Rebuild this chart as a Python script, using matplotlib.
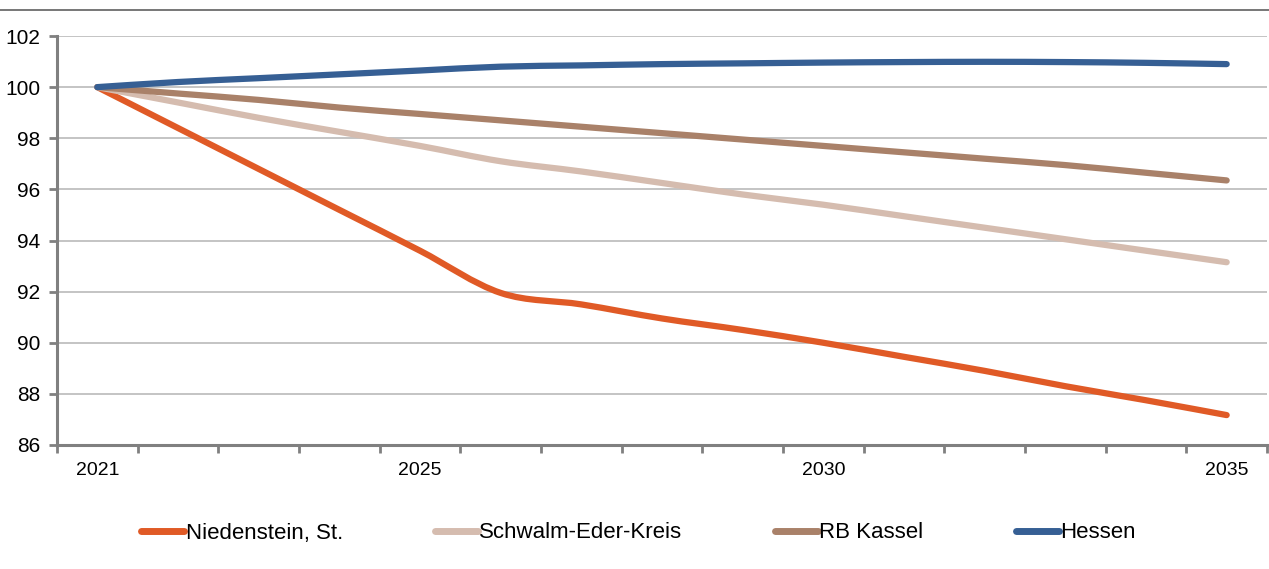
import numpy as np
import matplotlib.pyplot as plt
from matplotlib.path import Path
from matplotlib.patches import PathPatch
from matplotlib.lines import Line2D
from matplotlib.ticker import MultipleLocator, FixedLocator

plt.rcParams['font.family'] = ['Liberation Sans', 'DejaVu Sans']

# index values (2021 = 100)
years = list(range(2021, 2036))
niedenstein = [100, 98.4, 96.8, 95.2, 93.6, 91.95, 91.5, 90.95, 90.5, 90.0,
               89.45, 88.9, 88.3, 87.75, 87.17]
schwalm_eder = [100, 99.4, 98.8, 98.25, 97.7, 97.1, 96.7, 96.25, 95.8, 95.4,
                94.95, 94.5, 94.05, 93.6, 93.15]
rb_kassel = [100, 99.75, 99.5, 99.2, 98.95, 98.7, 98.45, 98.2, 97.95, 97.7,
             97.45, 97.2, 96.95, 96.65, 96.35]
hessen = [100, 100.2, 100.35, 100.5, 100.65, 100.8, 100.85, 100.9, 100.93, 100.96,
          100.98, 100.99, 100.98, 100.95, 100.9]

names = ["Niedenstein, St.", "Schwalm-Eder-Kreis", "RB Kassel", "Hessen"]
series = [niedenstein, schwalm_eder, rb_kassel, hessen]
colors = ["#E05A26", "#D5BCAF", "#A98169", "#365F94"]
xlabels = {2021: "2021", 2025: "2025", 2030: "2030", 2035: "2035"}


def smooth_path(x, y):
    # cubic bezier segments through the points (catmull-rom style smoothing)
    x = np.asarray(x, float)
    y = np.asarray(y, float)
    pts = np.column_stack([x, y])
    n = len(pts)
    verts = [pts[0]]
    codes = [Path.MOVETO]
    for i in range(n - 1):
        p0 = pts[i - 1] if i > 0 else pts[i]
        p1 = pts[i]
        p2 = pts[i + 1]
        p3 = pts[i + 2] if i + 2 < n else pts[i + 1]
        c1 = p1 + (p2 - p0) / 6.0
        c2 = p2 - (p3 - p1) / 6.0
        verts += [c1, c2, p2]
        codes += [Path.CURVE4] * 3
    return Path(verts, codes)


fig = plt.figure(figsize=(12.69, 5.69), dpi=100)
ax = fig.add_axes([57 / 1269, 1 - 445 / 569, 1210 / 1269, 409 / 569])

for vals, c in zip(series, colors):
    patch = PathPatch(smooth_path(years, vals), facecolor='none', edgecolor=c,
                      lw=4.5, capstyle='round', joinstyle='round', zorder=3)
    ax.add_patch(patch)

ax.set_xlim(2020.5, 2035.5)
ax.set_ylim(86, 102)

ax.yaxis.set_major_locator(MultipleLocator(2))
ax.grid(axis='y', color='#BFBFBF', lw=1.3, zorder=0)
ax.set_axisbelow(True)

ax.xaxis.set_major_locator(FixedLocator(list(xlabels.keys())))
ax.set_xticklabels(list(xlabels.values()))
ax.xaxis.set_minor_locator(FixedLocator(np.arange(2020.5, 2036, 1)))
ax.tick_params(axis='x', which='major', length=0, pad=12, labelsize=14)
ax.tick_params(axis='x', which='minor', length=6, width=2, color='#808080')
ax.tick_params(axis='y', length=6, width=2, color='#808080', pad=6, labelsize=15)

for s in ['top', 'right']:
    ax.spines[s].set_visible(False)
for s in ['left', 'bottom']:
    ax.spines[s].set_color('#808080')
    ax.spines[s].set_linewidth(2.2)

# thin rule across the top of the figure
fig.add_artist(Line2D([0, 1], [1 - 10 / 569] * 2, color='#606060', lw=1.2,
                      transform=fig.transFigure))

handles = [Line2D([], [], color=c, lw=5, solid_capstyle='round') for c in colors]
fig.legend(handles, names, loc='center', bbox_to_anchor=(0.503, 1 - 533 / 569),
           ncol=4, frameon=False, fontsize=16, handlelength=1.95,
           handletextpad=0.05, columnspacing=4.15)

fig.savefig('out.png', dpi=100)
